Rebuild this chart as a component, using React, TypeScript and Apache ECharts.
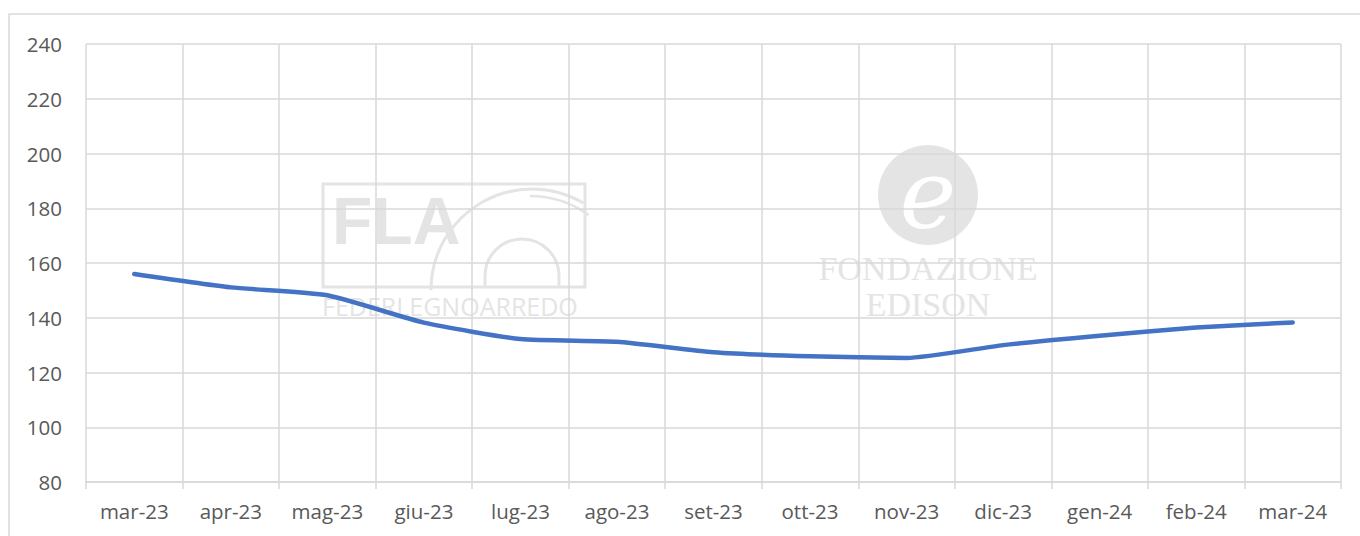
import React, { useEffect, useRef } from "react";
import * as echarts from "echarts";

const months = ["mar-23", "apr-23", "mag-23", "giu-23", "lug-23", "ago-23", "set-23", "ott-23", "nov-23", "dic-23", "gen-24", "feb-24", "mar-24"];
const values = [156.0, 151.1, 148.2, 138.2, 132.2, 131.2, 127.4, 125.9, 125.3, 130.0, 133.4, 136.4, 138.3];
const yMin = 80;
const yMax = 240;
const yStep = 20;

const GRID = "#d9d9d9";
const WM = "#e4e4e4";
const LABEL = "#595959";
const FONT = "'Open Sans', 'Noto Sans', sans-serif";

export default function App() {
  const ref = useRef<HTMLDivElement>(null);
  useEffect(() => {
    if (!ref.current) return;
    const chart = echarts.init(ref.current, null, { renderer: "svg" });
    chart.setOption({
      animation: false,
      backgroundColor: "#ffffff",
      grid: { left: 86, right: 19, top: 44, bottom: 54, containLabel: false },
      xAxis: {
        type: "category",
        data: months,
        boundaryGap: true,
        axisLine: { show: true, lineStyle: { color: GRID, width: 1.5 } },
        axisTick: { show: true, length: 7, lineStyle: { color: GRID, width: 1.5 } },
        splitLine: { show: true, lineStyle: { color: GRID, width: 1.5 } },
        axisLabel: { color: LABEL, fontSize: 20.5, fontFamily: FONT, margin: 18 },
      },
      yAxis: {
        type: "value",
        min: yMin,
        max: yMax,
        interval: yStep,
        axisLine: { show: false },
        axisTick: { show: false },
        splitLine: { show: true, lineStyle: { color: GRID, width: 1.5 } },
        axisLabel: { color: LABEL, fontSize: 20.5, fontFamily: FONT, margin: 24 },
      },
      graphic: [
        { type: "rect", z: -10, silent: true, shape: { x: 9, y: 14, width: 1400, height: 600 }, style: { fill: "none", stroke: GRID, lineWidth: 1.5 } },
        // FLA watermark
        { type: "rect", z: -5, silent: true, shape: { x: 323, y: 184, width: 262, height: 103 }, style: { fill: "none", stroke: WM, lineWidth: 3 } },
        { type: "text", z: -5, silent: true, x: 332, y: 188, style: { text: "FLA", fill: WM, font: "900 66px 'Liberation Sans', sans-serif" } },
        { type: "arc", z: -5, silent: true, shape: { cx: 532, cy: 290, r: 101, startAngle: Math.PI, endAngle: Math.PI * 1.67 }, style: { stroke: WM, lineWidth: 3, fill: "none" } },
        { type: "arc", z: -5, silent: true, shape: { cx: 530, cy: 296, r: 100, startAngle: Math.PI * 1.5, endAngle: Math.PI * 1.7 }, style: { stroke: WM, lineWidth: 2.5, fill: "none" } },
        { type: "arc", z: -5, silent: true, shape: { cx: 522, cy: 276, r: 37, startAngle: Math.PI, endAngle: Math.PI * 2 }, style: { stroke: WM, lineWidth: 3, fill: "none" } },
        { type: "line", z: -5, silent: true, shape: { x1: 485, y1: 276, x2: 485, y2: 287 }, style: { stroke: WM, lineWidth: 3 } },
        { type: "line", z: -5, silent: true, shape: { x1: 559, y1: 276, x2: 559, y2: 287 }, style: { stroke: WM, lineWidth: 3 } },
        { type: "text", z: -5, silent: true, x: 322, y: 293, style: { text: "FEDERLEGNOARREDO", fill: WM, font: "400 25px 'Open Sans', sans-serif" } },
        // Fondazione Edison watermark
        { type: "circle", z: -5, silent: true, shape: { cx: 928, cy: 195, r: 50 }, style: { fill: WM } },
        { type: "text", z: -4, silent: true, x: 928, y: 195, style: { text: "e", fill: "#ffffff", font: "italic 96px 'DejaVu Serif', serif", align: "center", verticalAlign: "middle" } },
        { type: "text", z: -5, silent: true, x: 928, y: 268, style: { text: "FONDAZIONE", fill: WM, font: "34px 'Liberation Serif', serif", align: "center", verticalAlign: "middle" } },
        { type: "text", z: -5, silent: true, x: 928, y: 304, style: { text: "EDISON", fill: WM, font: "34px 'Liberation Serif', serif", align: "center", verticalAlign: "middle" } },
      ],
      series: [
        {
          type: "line",
          data: values,
          smooth: 0.18,
          showSymbol: false,
          z: 5,
          lineStyle: { color: "#4472C4", width: 4.5, cap: "round", join: "round" },
        },
      ],
    });
    return () => chart.dispose();
  }, []);
  return <div ref={ref} style={{ position: "fixed", left: 0, top: 0, width: 1360, height: 536 }} />;
}
